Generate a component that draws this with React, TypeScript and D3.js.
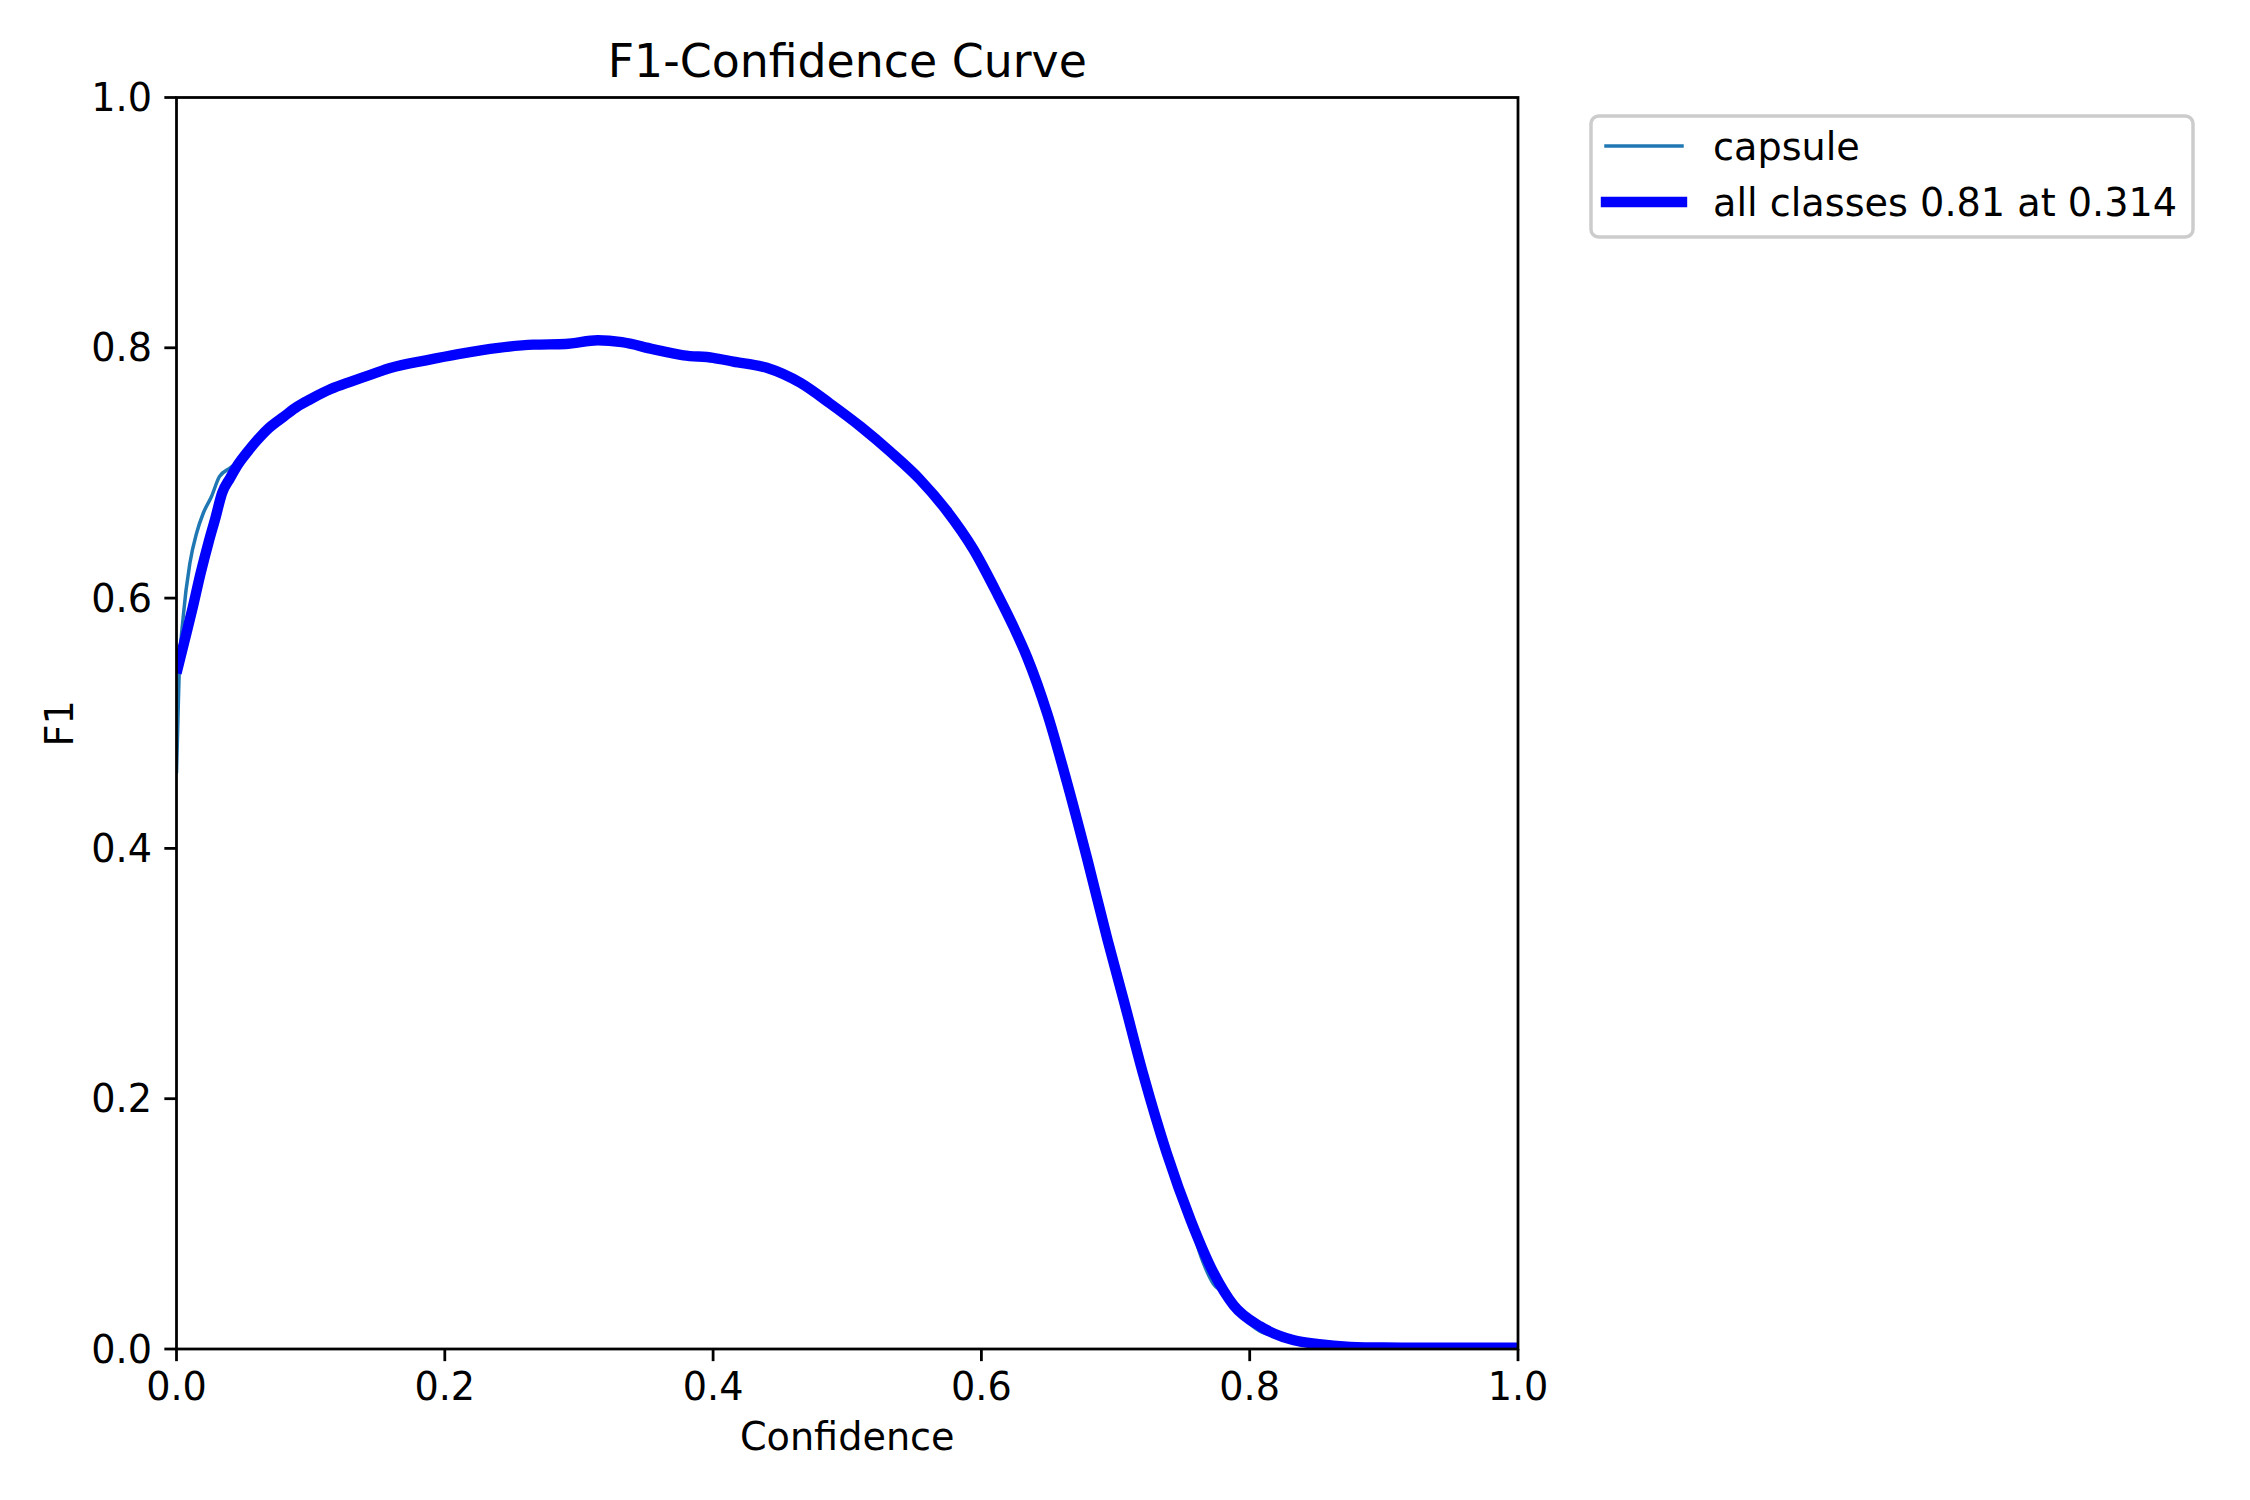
import React from 'react';
import * as d3 from 'd3';

// ---- data ----
const allClassesConfidence = [
  0.000, 0.006, 0.012, 0.018, 0.024, 0.029, 0.034, 0.040, 0.046, 0.053,
  0.060, 0.069, 0.080, 0.090, 0.100, 0.115, 0.130, 0.146, 0.160, 0.186,
  0.210, 0.240, 0.266, 0.290, 0.314, 0.332, 0.355, 0.378, 0.400, 0.415,
  0.440, 0.465, 0.487, 0.510, 0.532, 0.554, 0.574, 0.594, 0.612, 0.624,
  0.634, 0.649, 0.664, 0.679, 0.694, 0.706, 0.721, 0.738, 0.756, 0.773,
  0.788, 0.808, 0.833, 0.850, 0.875, 0.900, 0.950, 1.000,
];
const allClassesF1 = [
  0.540, 0.566, 0.592, 0.620, 0.645, 0.664, 0.684, 0.696, 0.707, 0.717,
  0.726, 0.736, 0.745, 0.753, 0.759, 0.767, 0.773, 0.779, 0.784, 0.790,
  0.795, 0.800, 0.8025, 0.803, 0.806, 0.8045, 0.799, 0.794, 0.792, 0.789,
  0.784, 0.772, 0.7556, 0.737, 0.717, 0.695, 0.670, 0.639, 0.603, 0.577,
  0.553, 0.508, 0.452, 0.391, 0.327, 0.279, 0.218, 0.157, 0.103, 0.061,
  0.035, 0.018, 0.007, 0.004, 0.0017, 0.0012, 0.001, 0.001,
];

const capsuleConfidence = [
  0.000, 0.001, 0.002, 0.005, 0.010, 0.015, 0.020, 0.026, 0.032, 0.040,
  0.046, 0.053, 0.060, 0.069, 0.080, 0.090, 0.100, 0.115, 0.130, 0.146,
  0.160, 0.186, 0.210, 0.240, 0.266, 0.290, 0.314, 0.332, 0.355, 0.378,
  0.400, 0.415, 0.440, 0.465, 0.487, 0.510, 0.532, 0.554, 0.574, 0.594,
  0.612, 0.624, 0.634, 0.649, 0.664, 0.679, 0.694, 0.706, 0.721, 0.738,
  0.756, 0.765, 0.773, 0.780, 0.788, 0.800, 0.808, 0.820, 0.833, 0.850,
  0.875, 0.900, 0.950, 1.000,
];
const capsuleF1 = [
  0.460, 0.500, 0.540, 0.585, 0.628, 0.652, 0.668, 0.681, 0.697, 0.704,
  0.709, 0.717, 0.726, 0.736, 0.745, 0.753, 0.759, 0.767, 0.773, 0.779,
  0.784, 0.790, 0.795, 0.800, 0.8025, 0.803, 0.806, 0.8045, 0.799, 0.794,
  0.792, 0.789, 0.784, 0.772, 0.7556, 0.737, 0.717, 0.695, 0.670, 0.639,
  0.603, 0.577, 0.553, 0.508, 0.452, 0.391, 0.327, 0.279, 0.218, 0.157,
  0.100, 0.070, 0.052, 0.045, 0.033, 0.020, 0.014, 0.010, 0.006, 0.004,
  0.0017, 0.0012, 0.001, 0.001,
];

const xTicks = [0, 0.2, 0.4, 0.6, 0.8, 1.0];
const yTicks = [0, 0.2, 0.4, 0.6, 0.8, 1.0];
const legendLabels = ['capsule', 'all classes 0.81 at 0.314'];
const titleText = 'F1-Confidence Curve';
const xLabelText = 'Confidence';
const yLabelText = 'F1';

// ---- layout ----
const W = 2250;
const H = 1500;
const PL = 176.5;
const PR = 1518;
const PT = 97.5;
const PB = 1349;
const FONT = '"DejaVu Sans", sans-serif';
const FS = 38.2;
const TITLE_FS = 45.8;
const SPINE_W = 2.78;
const TICK_LEN = 12.15;

export default function App() {
  const x = d3.scaleLinear().domain([0, 1]).range([PL, PR]);
  const y = d3.scaleLinear().domain([0, 1]).range([PB, PT]);
  const fmt = d3.format('.1f');

  const line = d3
    .line<[number, number]>()
    .x((d) => x(d[0]))
    .y((d) => y(d[1]))
    .curve(d3.curveMonotoneX);

  const capsulePts = capsuleConfidence.map((c, i) => [c, capsuleF1[i]] as [number, number]);
  const allPts = allClassesConfidence.map((c, i) => [c, allClassesF1[i]] as [number, number]);

  const legX = 1591;
  const legY = 116;
  const legW = 602;
  const legH = 121;
  const rowY = [146, 202];
  const handleX0 = 1606;
  const handleX1 = 1682;
  const textX = 1713;

  return (
    <svg
      width={W}
      height={H}
      viewBox={`0 0 ${W} ${H}`}
      style={{ position: 'absolute', left: 0, top: 0, background: '#fff' }}
      fontFamily={FONT}
    >
      <rect x={0} y={0} width={W} height={H} fill="#fff" />
      <defs>
        <clipPath id="plotClip">
          <rect x={PL} y={PT} width={PR - PL} height={PB - PT} />
        </clipPath>
      </defs>

      <g clipPath="url(#plotClip)">
        <path d={line(capsulePts) || ''} fill="none" stroke="#1f77b4" strokeWidth={3.47} strokeLinejoin="round" />
        <path d={line(allPts) || ''} fill="none" stroke="#0000ff" strokeWidth={10.4} strokeLinejoin="round" />
      </g>

      {/* spines */}
      <rect x={PL} y={PT} width={PR - PL} height={PB - PT} fill="none" stroke="#000" strokeWidth={SPINE_W} strokeLinejoin="miter" />

      {/* x ticks */}
      {xTicks.map((t) => (
        <g key={`xt${t}`}>
          <line x1={x(t)} x2={x(t)} y1={PB} y2={PB + TICK_LEN} stroke="#000" strokeWidth={SPINE_W} />
          <text x={x(t)} y={1399.5} fontSize={FS} textAnchor="middle" fill="#000">
            {fmt(t)}
          </text>
        </g>
      ))}

      {/* y ticks */}
      {yTicks.map((t) => (
        <g key={`yt${t}`}>
          <line x1={PL - TICK_LEN} x2={PL} y1={y(t)} y2={y(t)} stroke="#000" strokeWidth={SPINE_W} />
          <text x={152} y={y(t) + 13.6} fontSize={FS} textAnchor="end" fill="#000">
            {fmt(t)}
          </text>
        </g>
      ))}

      {/* title and labels */}
      <text x={(PL + PR) / 2} y={76.7} fontSize={TITLE_FS} textAnchor="middle" fill="#000">
        {titleText}
      </text>
      <text x={(PL + PR) / 2} y={1450} fontSize={FS} textAnchor="middle" fill="#000">
        {xLabelText}
      </text>
      <text
        x={0}
        y={0}
        fontSize={FS}
        textAnchor="middle"
        fill="#000"
        transform={`translate(72.7, ${(PT + PB) / 2}) rotate(-90)`}
      >
        {yLabelText}
      </text>

      {/* legend */}
      <rect
        x={legX}
        y={legY}
        width={legW}
        height={legH}
        rx={7.6}
        ry={7.6}
        fill="#fff"
        fillOpacity={0.8}
        stroke="#cccccc"
        strokeWidth={3.47}
      />
      <line x1={handleX0} x2={handleX1} y1={rowY[0]} y2={rowY[0]} stroke="#1f77b4" strokeWidth={3.47} strokeLinecap="square" />
      <text x={textX} y={rowY[0] + 14} fontSize={FS} fill="#000">
        {legendLabels[0]}
      </text>
      <line x1={handleX0} x2={handleX1} y1={rowY[1]} y2={rowY[1]} stroke="#0000ff" strokeWidth={10.4} strokeLinecap="square" />
      <text x={textX} y={rowY[1] + 14} fontSize={FS} fill="#000">
        {legendLabels[1]}
      </text>
    </svg>
  );
}
